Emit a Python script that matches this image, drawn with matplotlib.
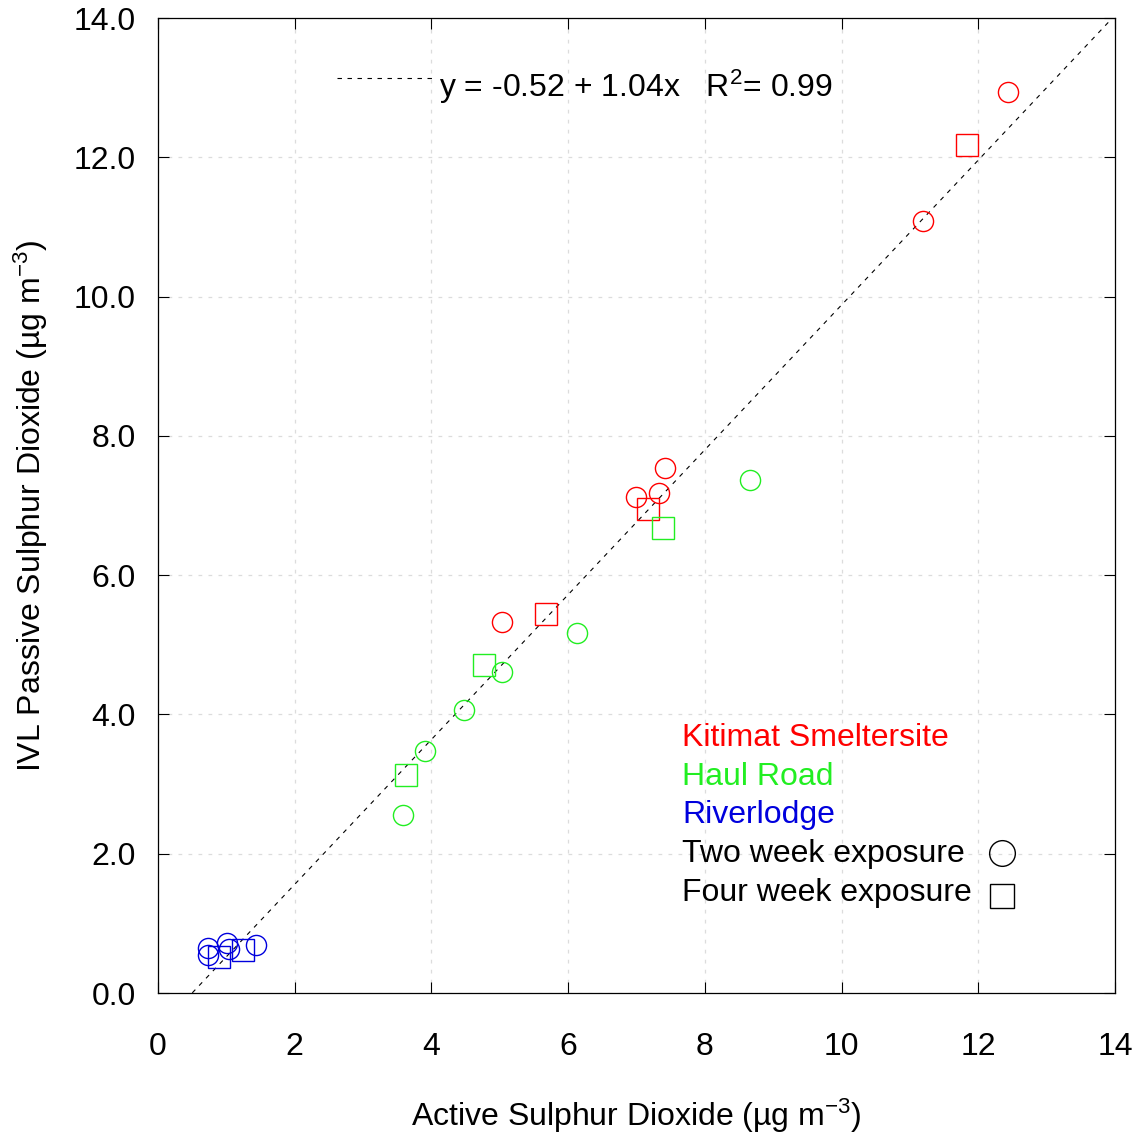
import numpy as np
import matplotlib.pyplot as plt
from matplotlib.lines import Line2D
from matplotlib.transforms import ScaledTranslation

plt.rcParams['font.family'] = ['Liberation Sans', 'DejaVu Sans']
plt.rcParams['mathtext.fontset'] = 'custom'
plt.rcParams['mathtext.rm'] = 'Liberation Sans'
plt.rcParams['mathtext.it'] = 'Liberation Sans'

# Active vs passive SO2 (ug m-3) per site and exposure length
kit_two_x = [12.43, 11.19, 7.42, 6.99, 7.33, 5.03]
kit_two_y = [12.94, 11.09, 7.54, 7.12, 7.18, 5.33]
kit_four_x = [11.83, 7.17, 5.68]
kit_four_y = [12.18, 6.95, 5.44]

haul_two_x = [8.66, 6.13, 5.03, 4.48, 3.91, 3.58]
haul_two_y = [7.37, 5.17, 4.61, 4.06, 3.48, 2.56]
haul_four_x = [7.39, 4.77, 3.63]
haul_four_y = [6.68, 4.71, 3.13]

river_two_x = [0.73, 0.73, 1.01, 1.04, 1.43]
river_two_y = [0.65, 0.55, 0.72, 0.63, 0.69]
river_four_x = [0.89, 1.24]
river_four_y = [0.52, 0.62]

intercept = -0.52
slope = 1.04
r2 = 0.99

sites = ['Kitimat Smeltersite', 'Haul Road', 'Riverlodge']
site_colors = ['#ff0000', '#22ee22', '#0000dd']

FS = 23

fig = plt.figure(figsize=(11.43, 11.35), dpi=100)
ax = fig.add_axes([0.1382, 0.1251, 0.8373, 0.859])

ax.set_xlim(0, 14)
ax.set_ylim(0, 14)

# regression line
xl = np.linspace(0, 14, 200)
ax.plot(xl, intercept + slope * xl, color='black', lw=0.8,
        ls=(0, (4, 5)), zorder=2)

groups = [
    (kit_two_x, kit_two_y, kit_four_x, kit_four_y),
    (haul_two_x, haul_two_y, haul_four_x, haul_four_y),
    (river_two_x, river_two_y, river_four_x, river_four_y),
]
for (tx, ty, fx, fy), col in zip(groups, site_colors):
    ax.plot(tx, ty, ls='none', marker='o', ms=14.5, mfc='none',
            mec=col, mew=1.0, zorder=3)
    ax.plot(fx, fy, ls='none', marker='s', ms=15.5, mfc='none',
            mec=col, mew=1.0, zorder=3)

# site / exposure key
key_x = 7.67
key_y0 = 3.66
step = 0.555
for i, (name, col) in enumerate(zip(sites, site_colors)):
    ax.text(key_x, key_y0 - i * step, name, color=col, fontsize=FS,
            va='center', ha='left')
ax.text(key_x, key_y0 - 3 * step, 'Two week exposure', color='black',
        fontsize=FS, va='center', ha='left')
ax.text(key_x, key_y0 - 4 * step, 'Four week exposure', color='black',
        fontsize=FS, va='center', ha='left')
ax.plot([12.35], [2.01], ls='none', marker='o', ms=18.5, mfc='none',
        mec='black', mew=1.0, clip_on=False)
ax.plot([12.35], [1.39], ls='none', marker='s', ms=17, mfc='none',
        mec='black', mew=1.0, clip_on=False)

leg_label = r'y = %.2f + %.2fx   R$^2$= %.2f' % (intercept, slope, r2)
leg = ax.legend([Line2D([], [], color='black', lw=0.8, ls=(0, (4, 5)))],
                [leg_label], loc='center left',
                bbox_to_anchor=(0.187, 0.929), frameon=False, fontsize=FS,
                handlelength=3.0, handletextpad=0.2, borderpad=0,
                borderaxespad=0)
# lift the key line a little above the text centre
key_line = leg.get_lines()[0]
key_line.set_transform(key_line.get_transform() +
                       ScaledTranslation(0, 8 / 100, fig.dpi_scale_trans))

ax.set_xticks(np.arange(0, 15, 2))
ax.set_yticks(np.arange(0, 15, 2))
ax.set_yticklabels(['%.1f' % v for v in np.arange(0, 15, 2)])
ax.tick_params(direction='in', length=8, width=0.8, labelsize=FS,
               top=True, right=True)
ax.tick_params(axis='x', pad=28)
ax.tick_params(axis='y', pad=16)

ax.grid(True, color='#dcdcdc', lw=0.9, ls=(0, (3, 5)))
ax.set_axisbelow(True)
for s in ax.spines.values():
    s.set_linewidth(0.9)

ax.set_xlabel(r'Active Sulphur Dioxide (µg m$^{-3}$)', fontsize=FS,
              labelpad=25)
ax.set_ylabel(r'IVL Passive Sulphur Dioxide (µg m$^{-3}$)', fontsize=FS,
              labelpad=17)

fig.savefig('out.png', dpi=100)
